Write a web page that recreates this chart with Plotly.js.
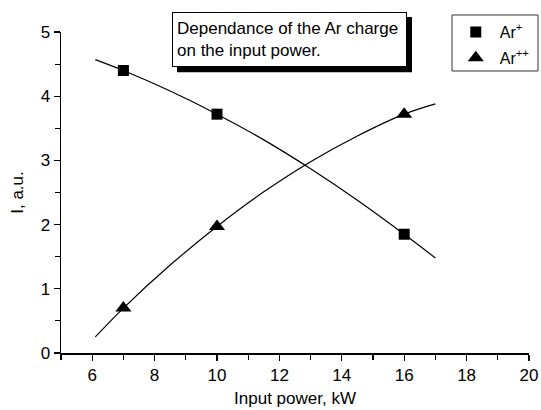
<!DOCTYPE html>
<html>
<head>
<meta charset="utf-8">
<script src="https://cdn.plot.ly/plotly-3.0.1.min.js"></script>
<style>html,body{margin:0;padding:0;background:#fff;}#chart{width:541px;height:410px;}</style>
</head>
<body>
<div id="chart"></div>
<script>
// Measured points
var power = [7, 10, 16];
var arPlus = [4.40, 3.72, 1.85];
var arPlusPlus = [0.70, 1.97, 3.72];

// Fit curves
var fitX = [6.1, 7, 8.5, 10, 11.5, 13, 14.5, 16, 17];
var fitPlus = [4.57, 4.40, 4.08, 3.72, 3.32, 2.87, 2.38, 1.85, 1.48];
var fitPlusPlus = [0.25, 0.70, 1.37, 1.97, 2.51, 2.98, 3.38, 3.72, 3.88];

var xTicks = [6, 8, 10, 12, 14, 16, 18, 20];
var yTicks = [0, 1, 2, 3, 4, 5];

var font = 'Liberation Sans, Arial, sans-serif';

var traces = [
  {x: fitX, y: fitPlus, mode: 'lines', line: {color: '#000', width: 1.2, shape: 'spline'}, showlegend: false, hoverinfo: 'skip'},
  {x: fitX, y: fitPlusPlus, mode: 'lines', line: {color: '#000', width: 1.2, shape: 'spline'}, showlegend: false, hoverinfo: 'skip'},
  {x: power, y: arPlus, mode: 'markers', name: 'Ar<sup>+</sup>', legendgroup: 'a',
   marker: {symbol: 'square', size: 11, color: '#000'}},
  {x: power, y: arPlusPlus, mode: 'markers', name: 'Ar<sup>++</sup>', legendgroup: 'b',
   marker: {symbol: 'triangle-up', size: 14, color: '#000'}}
];

var layout = {
  width: 541, height: 410,
  margin: {l: 61, r: 12, t: 32, b: 57, autoexpand: false},
  paper_bgcolor: '#fff', plot_bgcolor: '#fff',
  font: {family: font, color: '#000', size: 17},
  xaxis: {
    range: [5, 20], tickvals: xTicks, ticktext: xTicks.map(String),
    showgrid: false, zeroline: false, showline: true, linecolor: '#000', linewidth: 1.5,
    ticks: 'outside', ticklen: 6, tickwidth: 1.2, tickcolor: '#000',
    minor: {dtick: 1, ticks: 'outside', ticklen: 5, tickwidth: 1.2, tickcolor: '#000'},
    tickfont: {size: 17, family: font},
    title: {text: 'Input power, kW', font: {size: 17, family: font}, standoff: 8}
  },
  yaxis: {
    range: [0, 5], tickvals: yTicks, ticktext: yTicks.map(String),
    showgrid: false, zeroline: false, showline: true, linecolor: '#000', linewidth: 1.5,
    ticks: 'outside', ticklen: 6, tickwidth: 1.2, tickcolor: '#000',
    minor: {dtick: 0.5, ticks: 'outside', ticklen: 5, tickwidth: 1.2, tickcolor: '#000'},
    tickfont: {size: 17, family: font},
    title: {text: 'I, a.u.', font: {size: 17, family: font}, standoff: 12}
  },
  showlegend: true,
  legend: {
    x: 0.835, y: 1.053, xanchor: 'left', yanchor: 'top',
    borderwidth: 0, bgcolor: 'rgba(0,0,0,0)', itemwidth: 38,
    font: {size: 16, family: font}, traceorder: 'grouped', tracegroupgap: 2
  },
  shapes: [
    {type: 'rect', xref: 'paper', yref: 'paper', x0: 0.2479, x1: 0.75, y0: 0.875, y1: 1.0467,
     fillcolor: '#000', line: {width: 0}, layer: 'above'},
    {type: 'rect', xref: 'paper', yref: 'paper', x0: 0.8355, x1: 1.0192, y0: 0.8785, y1: 1.053,
     fillcolor: 'rgba(0,0,0,0)', line: {color: '#333', width: 1}, layer: 'above'}
  ],
  annotations: [
    {xref: 'paper', yref: 'paper', x: 0.488, y: 0.977, xanchor: 'center', yanchor: 'middle',
     text: 'Dependance of the Ar charge<br>on the input power.', align: 'left', showarrow: false,
     bgcolor: '#fff', bordercolor: '#000', borderwidth: 1, borderpad: 4, width: 225, height: 45,
     font: {size: 17, family: font}}
  ]
};

Plotly.newPlot('chart', traces, layout, {displayModeBar: false, staticPlot: true});
</script>
</body>
</html>
